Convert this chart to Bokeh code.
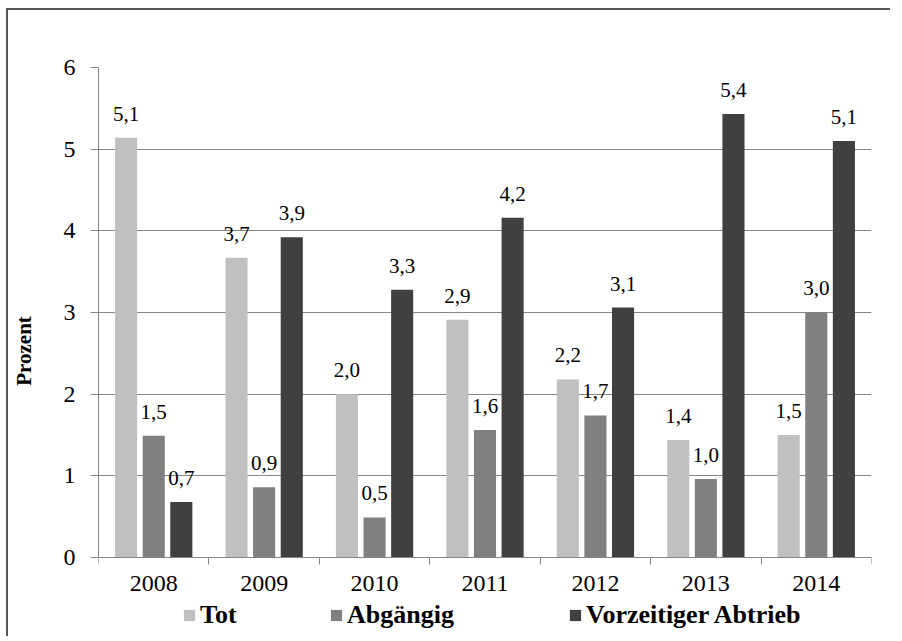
from bokeh.plotting import figure
from bokeh.models import (ColumnDataSource, Range1d, FixedTicker, Legend, LegendItem)
from bokeh.core.properties import value
from bokeh.embed import file_html
from bokeh.resources import INLINE

years = ["2008", "2009", "2010", "2011", "2012", "2013", "2014"]
tot = [5.14, 3.67, 2.00, 2.91, 2.18, 1.44, 1.50]
abgaengig = [1.49, 0.86, 0.49, 1.56, 1.74, 0.96, 3.00]
vorzeitig = [0.68, 3.92, 3.28, 4.16, 3.06, 5.43, 5.10]
series_names = ["Tot", "Abgängig", "Vorzeitiger Abtrieb"]
colors = ["#c0c0c0", "#808080", "#404040"]
y_ticks = [0, 1, 2, 3, 4, 5, 6]

FONT = "Liberation Serif"

# frame extends below y=0 to host the legend; x axis pinned at y=0
p = figure(width=884, height=628, output_backend="svg", toolbar_location=None,
           x_range=Range1d(0, len(years)), y_range=Range1d(-0.943, 6),
           min_border_left=90, min_border_right=21, min_border_top=57,
           min_border_bottom=4)
p.styles = {"margin-left": "6px", "margin-top": "8px",
            "border-left": "2px solid #555555", "border-top": "2px solid #555555"}
p.outline_line_color = None
p.background_fill_color = "white"
p.border_fill_color = "white"

offsets = [-0.25, 0.0, 0.25]
renderers = []
for vals, off, col in zip([tot, abgaengig, vorzeitig], offsets, colors):
    xs = [i + 0.5 + off for i in range(len(years))]
    labels = [f"{v:.1f}".replace(".", ",") for v in vals]
    src = ColumnDataSource(dict(x=xs, top=vals, label=labels))
    r = p.vbar(x="x", top="top", width=0.2, bottom=0, source=src,
               fill_color=col, line_color=None)
    renderers.append(r)
    p.text(x="x", y="top", text="label", source=src, text_align="center",
           text_baseline="alphabetic", y_offset=-24,
           text_font=value(FONT), text_font_size="21px", text_color="black")

# x axis
xa = p.xaxis[0]
xa.fixed_location = 0
xa.ticker = FixedTicker(ticks=[i + 0.5 for i in range(len(years))],
                        minor_ticks=list(range(len(years) + 1)))
xa.major_label_overrides = {i + 0.5: y for i, y in enumerate(years)}
xa.major_tick_line_color = None
xa.major_tick_out = 0
xa.major_tick_in = 0
xa.minor_tick_line_color = "#868686"
xa.minor_tick_out = 7
xa.minor_tick_in = 0
xa.axis_line_color = "#868686"
xa.major_label_text_font = FONT
xa.major_label_text_font_size = "24px"
xa.major_label_text_color = "black"
xa.major_label_standoff = 12

# y axis
ya = p.yaxis[0]
ya.bounds = (0, 6)
ya.ticker = FixedTicker(ticks=y_ticks)
ya.minor_tick_line_color = None
ya.major_tick_line_color = "#868686"
ya.major_tick_out = 8
ya.major_tick_in = 0
ya.axis_line_color = "#868686"
ya.major_label_text_font = FONT
ya.major_label_text_font_size = "24px"
ya.major_label_text_color = "black"
ya.major_label_standoff = 15
ya.axis_label = "Prozent"
ya.axis_label_text_font = FONT
ya.axis_label_text_font_style = "bold"
ya.axis_label_text_font_size = "21px"
ya.axis_label_text_color = "black"
ya.axis_label_standoff = 25

p.xgrid.grid_line_color = None
p.ygrid.grid_line_color = "#868686"
p.ygrid.ticker = FixedTicker(ticks=y_ticks)

legend_x = [84, 231, 470]
for name, r, lx in zip(series_names, renderers, legend_x):
    lg = Legend(items=[LegendItem(label=name, renderers=[r])],
                location=(lx, 4), orientation="horizontal",
                padding=0, margin=0, spacing=0,
                glyph_width=14, glyph_height=14, label_standoff=4,
                label_text_font=FONT, label_text_font_style="bold",
                label_text_font_size="26px", label_text_color="black",
                border_line_color=None, background_fill_alpha=0)
    p.add_layout(lg)

open("out.html", "w").write(file_html(p, INLINE))
